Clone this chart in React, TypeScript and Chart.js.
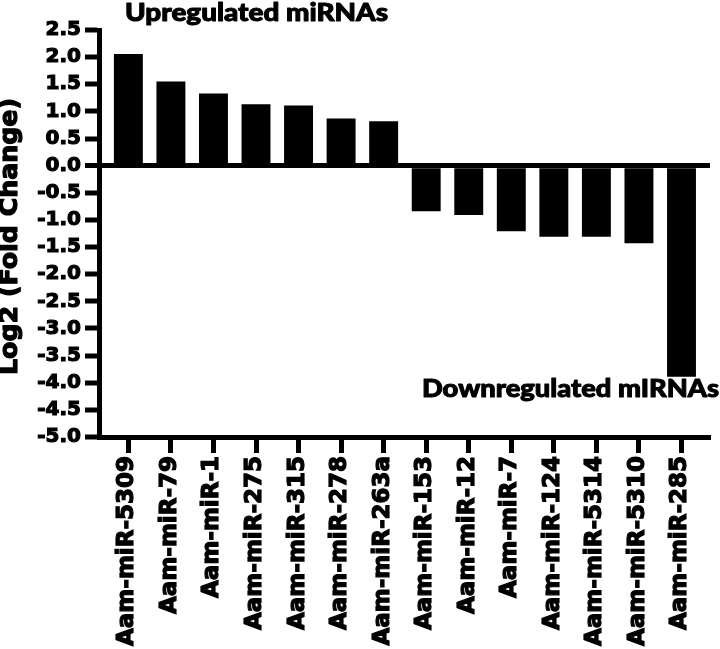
import React, { useEffect, useRef } from "react";
import { Chart, registerables } from "chart.js";

Chart.register(...registerables);

const categories: string[] = [
  "Aam-miR-5309",
  "Aam-miR-79",
  "Aam-miR-1",
  "Aam-miR-275",
  "Aam-miR-315",
  "Aam-miR-278",
  "Aam-miR-263a",
  "Aam-miR-153",
  "Aam-miR-12",
  "Aam-miR-7",
  "Aam-miR-124",
  "Aam-miR-5314",
  "Aam-miR-5310",
  "Aam-miR-285",
];

const log2FoldChange: number[] = [
  2.06, 1.55, 1.33, 1.13, 1.11, 0.87, 0.82,
  -0.84, -0.91, -1.21, -1.31, -1.31, -1.43, -3.89,
];

const yMin = -5.0;
const yMax = 2.5;
const yStep = 0.5;

const yAxisTitle = "Log2 (Fold Change)";
const upLabel = "Upregulated miRNAs";
const downLabel = "Downregulated mIRNAs";

const annotationPlugin = {
  id: "annotations",
  afterDraw(chart: any) {
    const { ctx, chartArea } = chart;
    const drawStretched = (text: string, x: number, y: number, width: number) => {
      ctx.save();
      ctx.font = "900 25px Lato";
      ctx.fillStyle = "#000";
      ctx.strokeStyle = "#000";
      ctx.lineWidth = 1;
      ctx.lineJoin = "round";
      ctx.textBaseline = "alphabetic";
      ctx.textAlign = "left";
      const w = ctx.measureText(text).width;
      ctx.translate(x, y);
      ctx.scale(width / w, 1);
      ctx.fillText(text, 0, 0);
      ctx.strokeText(text, 0, 0);
      ctx.restore();
    };
    drawStretched(upLabel, chartArea.left + 26, chartArea.top - 9, 263);
    drawStretched(downLabel, chartArea.left + 323, chartArea.bottom - 40, 297);

    // y axis title
    ctx.save();
    ctx.font = "bold 24px 'DejaVu Sans'";
    ctx.fillStyle = "#000";
    ctx.strokeStyle = "#000";
    ctx.lineWidth = 1.2;
    ctx.lineJoin = "round";
    ctx.textAlign = "center";
    ctx.textBaseline = "middle";
    const cy = (chartArea.top + chartArea.bottom) / 2 + 3;
    ctx.translate(11, cy);
    ctx.rotate(-Math.PI / 2);
    const tw = ctx.measureText(yAxisTitle).width;
    ctx.scale(277 / tw, 1);
    ctx.fillText(yAxisTitle, 0, 0);
    ctx.strokeText(yAxisTitle, 0, 0);
    ctx.restore();
  },
};

export default function App() {
  const canvasRef = useRef<HTMLCanvasElement | null>(null);

  useEffect(() => {
    if (!canvasRef.current) return;
    const chart = new Chart(canvasRef.current, {
      type: "bar",
      data: {
        datasets: [
          {
            data: log2FoldChange.map((v, i) => ({ x: i, y: v })),
            backgroundColor: "#000",
            borderWidth: 0,
            barPercentage: 0.68,
            categoryPercentage: 1,
          },
        ],
      },
      options: {
        animation: false,
        responsive: true,
        maintainAspectRatio: false,
        layout: { padding: { top: 30, right: 10, left: 0, bottom: 0 } },
        plugins: {
          legend: { display: false },
          tooltip: { enabled: false },
        },
        scales: {
          x: {
            type: "linear",
            offset: false,
            min: -0.69,
            max: 13.67,
            afterBuildTicks: (scale: any) => {
              scale.ticks = categories.map((_, i) => ({ value: i }));
            },
            afterFit: (scale: any) => {
              scale.height = 212;
            },
            ticks: {
              autoSkip: false,
              minRotation: 90,
              maxRotation: 90,
              padding: 3,
              labelOffset: -1,
              color: "#000",
              textStrokeColor: "#000",
              textStrokeWidth: 1.2,
              font: { family: "'DejaVu Sans'", weight: "bold", size: 23 },
              callback: (v: any) => categories[Math.round(Number(v))] ?? "",
            },
            grid: {
              display: true,
              offset: false,
              drawOnChartArea: false,
              drawTicks: true,
              tickLength: 16,
              tickWidth: 5,
              tickColor: "#000",
              color: "rgba(0,0,0,0)",
            },
            border: { display: true, width: 5, color: "#000" },
          },
          y: {
            type: "linear",
            min: yMin,
            max: yMax,
            afterFit: (scale: any) => {
              scale.width = 99;
            },
            ticks: {
              stepSize: yStep,
              padding: 4,
              color: "#000",
              textStrokeColor: "#000",
              textStrokeWidth: 1.2,
              font: { family: "'DejaVu Sans'", weight: "bold", size: 20 },
              callback: (v: any) => Number(v).toFixed(1),
            },
            grid: {
              display: true,
              drawOnChartArea: true,
              drawTicks: true,
              tickLength: 14,
              tickWidth: 5,
              tickColor: "#000",
              color: (ctx: any) => (ctx.tick && ctx.tick.value === 0 ? "#000" : "rgba(0,0,0,0)"),
              lineWidth: (ctx: any) => (ctx.tick && ctx.tick.value === 0 ? 5 : 0),
            },
            border: { display: true, width: 5, color: "#000" },
            title: { display: false, text: yAxisTitle },
          },
        },
      },
      plugins: [annotationPlugin],
    } as any);
    return () => chart.destroy();
  }, []);

  return (
    <div style={{ position: "fixed", left: 0, top: 0, width: 720, height: 649, background: "#fff" }}>
      <canvas ref={canvasRef} />
    </div>
  );
}
